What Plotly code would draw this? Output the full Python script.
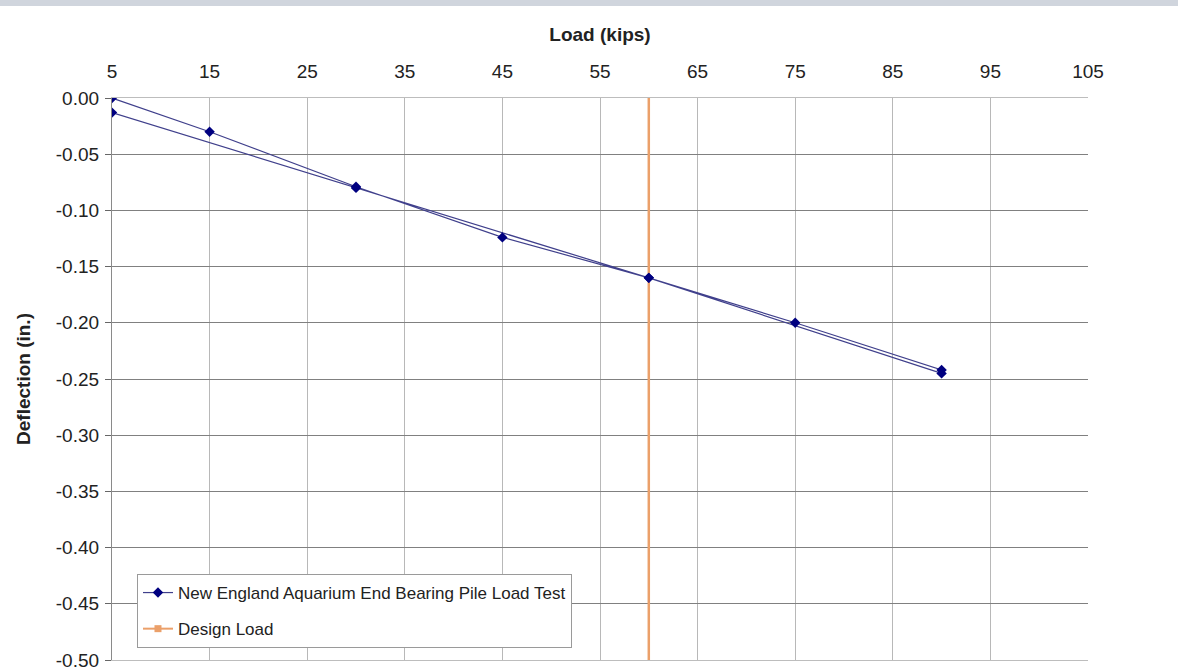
import plotly.graph_objects as go

# Data
load_kips = [5, 15, 30, 45, 60, 75, 90, 90, 60, 30, 5]
deflection_in = [0.000, -0.030, -0.079, -0.124, -0.160, -0.200, -0.242, -0.245, -0.160, -0.080, -0.013]
design_load_x = [60, 60]
design_load_y = [0.0, -0.5]

series_name = "New England Aquarium End Bearing Pile Load Test"
design_name = "Design Load"

x_ticks = [5, 15, 25, 35, 45, 55, 65, 75, 85, 95, 105]
y_ticks = [0.00, -0.05, -0.10, -0.15, -0.20, -0.25, -0.30, -0.35, -0.40, -0.45, -0.50]
y_tick_labels = ["0.00", "-0.05", "-0.10", "-0.15", "-0.20", "-0.25",
                 "-0.30", "-0.35", "-0.40", "-0.45", "-0.50"]

navy = "#000080"
line_col = "#40408c"
orange = "#EBA06A"
font_family = "Liberation Sans, Arial, sans-serif"

fig = go.Figure()

fig.add_trace(go.Scatter(
    x=design_load_x, y=design_load_y, mode="lines",
    line=dict(color=orange, width=2.5), showlegend=False, hoverinfo="skip"))

fig.add_trace(go.Scatter(
    x=load_kips, y=deflection_in, mode="lines+markers", name=series_name,
    legendgroup="a",
    line=dict(color=line_col, width=1.2),
    marker=dict(symbol="diamond", size=8, color=navy)))

fig.add_trace(go.Scatter(
    x=[None], y=[None], mode="lines+markers", name=design_name,
    legendgroup="b",
    line=dict(color=orange, width=2),
    marker=dict(symbol="square", size=7, color=orange)))

fig.update_layout(
    width=1178, height=672,
    paper_bgcolor="white", plot_bgcolor="white",
    margin=dict(l=112, r=90, t=98, b=12, autoexpand=False),
    font=dict(family=font_family, size=19, color="#222222"),
    showlegend=True,
    legend=dict(
        x=0.0256, y=0.153, xanchor="left", yanchor="top",
        bgcolor="white", bordercolor="#9a9a9a", borderwidth=1,
        font=dict(family=font_family, size=17, color="#222222"),
        tracegroupgap=11, itemwidth=30,
    ),
    xaxis=dict(
        side="top", range=[5, 105], tickvals=x_ticks,
        ticktext=[str(v) for v in x_ticks], automargin=False,
        showgrid=True, gridcolor="#b8b8b8", gridwidth=1,
        zeroline=False, showline=True, linecolor="#bdbdbd", mirror=True,
        ticks="", ticklabelstandoff=11,
        title=dict(text="<b>Load (kips)</b>", font=dict(size=19, color="#222222"), standoff=14),
    ),
    yaxis=dict(
        range=[-0.5, 0.0], tickvals=y_ticks, ticktext=y_tick_labels, automargin=False,
        showgrid=True, gridcolor="#808080", gridwidth=1.2,
        zeroline=True, zerolinecolor="#555555", zerolinewidth=1.5,
        showline=True, linecolor="#8a8a8a", linewidth=1.2,
        ticks="outside", ticklen=6, tickcolor="#666666", ticklabelstandoff=2,
        title=dict(text="<b>Deflection (in.)</b>", font=dict(size=19, color="#222222"), standoff=20),
    ),
    shapes=[dict(type="rect", xref="paper", yref="paper",
                 x0=-0.2, x1=1.2, y0=1 + 92 / 562, y1=1 + 98 / 562,
                 fillcolor="#d0d5dd", line=dict(width=0), layer="above")],
)

fig.write_html("out.html", config={"displayModeBar": False},
               post_script="document.body.style.margin='0px';")
